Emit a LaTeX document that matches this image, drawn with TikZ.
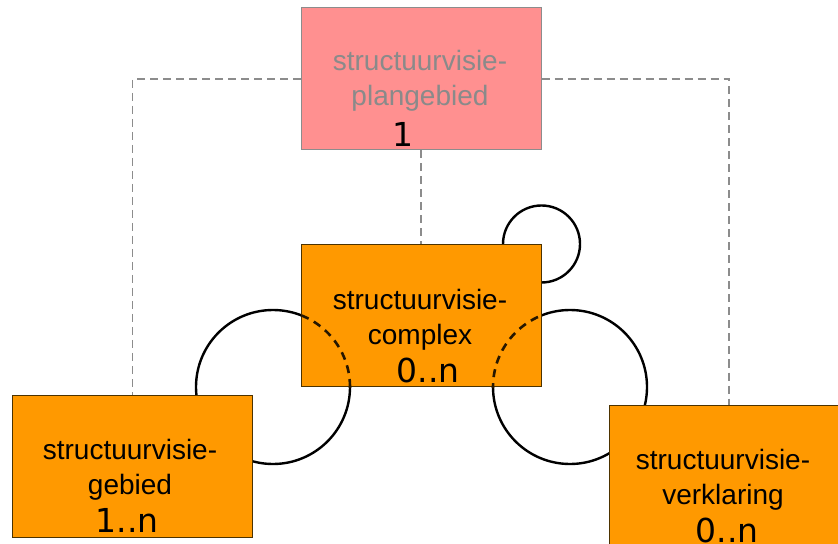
\documentclass[tikz,border=0pt]{standalone}
\usepackage{fontspec}
\setmainfont{Liberation Sans}
\newfontfamily\multfont{DejaVu Sans}
\usetikzlibrary{positioning}
\usetikzlibrary{backgrounds}

\definecolor{oranje}{HTML}{FF9900}
\definecolor{roze}{HTML}{FF9090}
\definecolor{randgrijs}{HTML}{8C8C8C}
\definecolor{randbruin}{HTML}{4D3300}
\definecolor{tekstgrijs}{HTML}{8A8A8A}

\tikzset{
  klasse/.style={draw=randbruin, fill=oranje, line width=0.5pt,
    minimum width=120pt, minimum height=71pt, inner sep=0pt},
  naam/.style={align=center, inner sep=0pt,
    font=\fontsize{14}{17.5}\selectfont},
  mult/.style={inner sep=0pt, font=\multfont\fontsize{16.5}{18}\selectfont},
  afh/.style={draw=randgrijs, dash pattern=on 4pt off 2.5pt, line width=0.7pt},
  rol/.style={draw=black, line width=1.2pt},
  rolverborgen/.style={draw=black!85!oranje, line width=1.3pt, dash pattern=on 4pt off 3pt},
}

\begin{document}
\begin{tikzpicture}[x=0.5pt,y=-0.5pt]
\useasboundingbox (0,0) rectangle (838,544);
\clip (0,0) rectangle (838,544);

% klassen
\node[klasse, draw=randgrijs, fill=roze] (plangebied) at (421,79) {};
\node[klasse] (complex) at (421,315.5) {};
\node[klasse] (gebied) at (132.5,466.5) {};
\node[klasse] (verklaring) at (729,476) {};

% namen en multipliciteiten
\node[naam, text=tekstgrijs] (plangebied-naam) at (420,80.5) {structuurvisie-\\plangebied};
\node[mult] (plangebied-mult) at (403,134) {1};
\node[naam] (complex-naam) at (420,319.5) {structuurvisie-\\complex};
\node[mult] (complex-mult) at (428,370) {0..n};
\node[naam] (gebied-naam) at (130,469.5) {structuurvisie-\\gebied};
\node[mult] (gebied-mult) at (127,520) {1..n};
\node[naam] (verklaring-naam) at (723,479.5) {structuurvisie-\\verklaring};
\node[mult] (verklaring-mult) at (727,530) {0..n};

\begin{scope}[on background layer]
\fill[white] (0,0) rectangle (838,544);
\draw[afh] (plangebied.west) -| (gebied.north);
\draw[afh] (plangebied.east) -| (verklaring.north);
\draw[afh] (plangebied.south) -- (complex.north);
% rollen
\draw[rol] (273,387) circle[radius=38.5pt];
\draw[rol] (570,387) circle[radius=38.5pt];
\draw[rol] (complex.north east) circle[radius=19.25pt];
\end{scope}

% verborgen delen binnen complex
\begin{scope}
\clip (complex.south west) rectangle (complex.north east);
\draw[rolverborgen] (273,387) circle[radius=38.5pt];
\draw[rolverborgen] (570,387) circle[radius=38.5pt];
\end{scope}
\end{tikzpicture}
\end{document}
